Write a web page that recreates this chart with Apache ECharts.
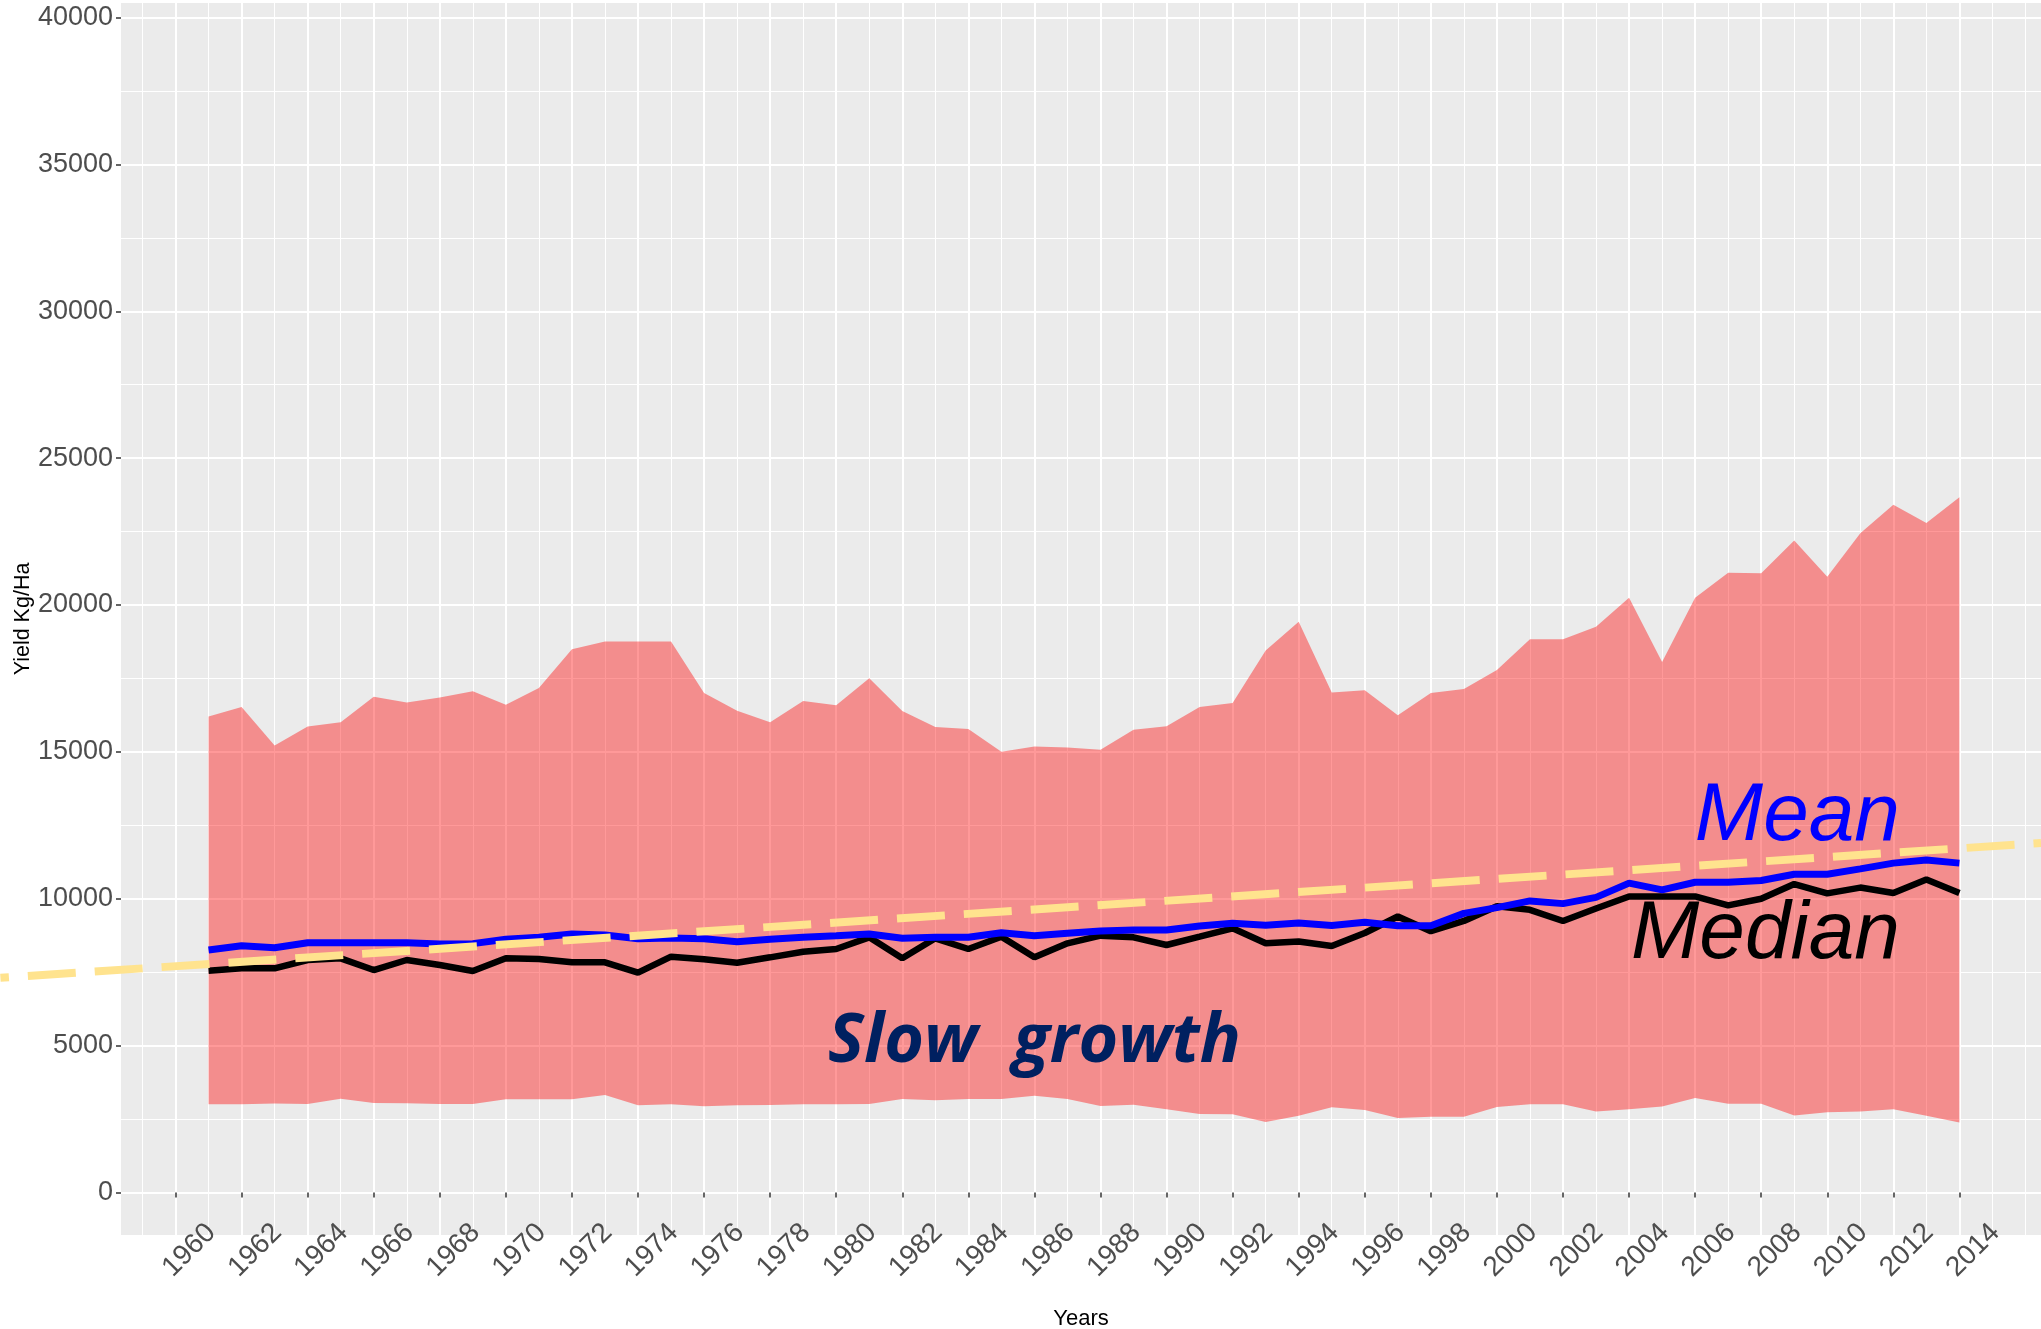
<!DOCTYPE html>
<html>
<head>
<meta charset="utf-8">
<script src="https://cdn.jsdelivr.net/npm/echarts@6/dist/echarts.min.js"></script>
<style>
html, body { margin: 0; padding: 0; background: #fff; }
#chart { width: 2041px; height: 1329px; }
</style>
</head>
<body>
<div id="chart"></div>
<script>
// years and yield values (Kg/Ha)
var years = [1961, 1962, 1963, 1964, 1965, 1966, 1967, 1968, 1969, 1970,
    1971, 1972, 1973, 1974, 1975, 1976, 1977, 1978, 1979, 1980,
    1981, 1982, 1983, 1984, 1985, 1986, 1987, 1988, 1989, 1990,
    1991, 1992, 1993, 1994, 1995, 1996, 1997, 1998, 1999, 2000,
    2001, 2002, 2003, 2004, 2005, 2006, 2007, 2008, 2009, 2010,
    2011, 2012, 2013, 2014];
var upper = [16200, 16530, 15220, 15860, 16010, 16880, 16680, 16850, 17060, 16600,
    17170, 18490, 18760, 18760, 18760, 17000, 16400, 16010, 16730, 16590,
    17510, 16390, 15850, 15780, 15000, 15180, 15150, 15070, 15750, 15870,
    16530, 16660, 18450, 19430, 17020, 17100, 16250, 17000, 17140, 17790,
    18830, 18830, 19260, 20250, 18060, 20250, 21100, 21080, 22200, 20960,
    22440, 23410, 22790, 23670];
var lower = [3000, 3000, 3030, 3010, 3190, 3045, 3033, 3010, 3010, 3170,
    3170, 3170, 3316, 2965, 3000, 2930, 2965, 2976, 3000, 3000,
    3010, 3180, 3135, 3180, 3180, 3293, 3180, 2942, 2988, 2829,
    2670, 2659, 2397, 2610, 2900, 2804, 2531, 2576, 2576, 2910,
    3001, 3001, 2758, 2834, 2925, 3213, 3016, 3016, 2622, 2728,
    2758, 2834, 2607, 2380];
var mean = [8255, 8401, 8333, 8503, 8503, 8503, 8503, 8457, 8470, 8617,
    8685, 8798, 8764, 8640, 8662, 8640, 8537, 8617, 8685, 8741,
    8798, 8651, 8685, 8685, 8843, 8741, 8821, 8900, 8934, 8934,
    9070, 9161, 9093, 9175, 9085, 9197, 9076, 9076, 9500, 9697,
    9924, 9833, 10045, 10530, 10303, 10560, 10560, 10621, 10833, 10833,
    11015, 11212, 11318, 11212];
var median = [7549, 7629, 7629, 7913, 7970, 7572, 7913, 7742, 7538, 7970,
    7947, 7834, 7834, 7481, 8026, 7936, 7820, 8004, 8196, 8287,
    8685, 7970, 8651, 8287, 8707, 8004, 8481, 8741, 8685, 8424,
    8707, 8992, 8481, 8540, 8390, 8833, 9394, 8894, 9242, 9742,
    9621, 9242, 9667, 10076, 10076, 10076, 9773, 10000, 10500, 10182,
    10379, 10197, 10651, 10197];
// trend line end points
var trendX = [1954.7, 2016.47];
var trendY = [7308, 11898];

// tick labels
var yearTicks = [1960, 1962, 1964, 1966, 1968, 1970, 1972, 1974, 1976, 1978,
    1980, 1982, 1984, 1986, 1988, 1990, 1992, 1994, 1996, 1998,
    2000, 2002, 2004, 2006, 2008, 2010, 2012, 2014];
var yearMinor = [1959, 1961, 1963, 1965, 1967, 1969, 1971, 1973, 1975, 1977,
    1979, 1981, 1983, 1985, 1987, 1989, 1991, 1993, 1995, 1997,
    1999, 2001, 2003, 2005, 2007, 2009, 2011, 2013, 2015, 2016];
var yieldTicks = [0, 5000, 10000, 15000, 20000, 25000, 30000, 35000, 40000];
var yieldMinor = [2500, 7500, 12500, 17500, 22500, 27500, 32500, 37500];

function pairs(xs, ys) {
    var out = [];
    for (var i = 0; i < xs.length; i++) {
        out.push([xs[i], ys[i]]);
    }
    return out;
}

var myChart = echarts.init(document.getElementById('chart'));

var xMin = 1958.35, xMax = 2016.47;
var yMin = -1450, yMax = 40497;
var tickFont = 'Liberation Sans, Arial, sans-serif';

var option = {
    animation: false,
    backgroundColor: '#ffffff',
    grid: {
        left: 121, right: 0, top: 3, bottom: 94,
        outerBoundsMode: 'none',
        containLabel: false,
        show: true, backgroundColor: '#EBEBEB', borderWidth: 0
    },
    xAxis: [{
        type: 'value', min: xMin, max: xMax,
        axisLine: { show: false },
        axisTick: { show: true, customValues: yearTicks, length: 5, lineStyle: { color: '#333333', width: 1.5 } },
        axisLabel: {
            customValues: yearTicks, rotate: 45, align: 'center', margin: 29, padding: [0, 0, 0, 39],
            fontSize: 28, color: '#4D4D4D', fontFamily: tickFont,
            formatter: function (v) { return String(v); }
        },
        splitLine: { show: true, lineStyle: { color: '#ffffff', width: 2 } },
        name: 'Years', nameLocation: 'middle', nameGap: 73,
        nameTextStyle: { fontSize: 22, color: '#000000', fontFamily: tickFont }
    }, {
        // minor grid lines
        type: 'value', min: xMin, max: xMax,
        axisLine: { show: false },
        axisTick: { show: false, customValues: yearMinor },
        axisLabel: { show: false, customValues: yearMinor },
        splitLine: { show: true, lineStyle: { color: '#ffffff', width: 1 } }
    }],
    yAxis: [{
        type: 'value', min: yMin, max: yMax,
        axisLine: { show: false },
        axisTick: { show: true, customValues: yieldTicks, length: 5, lineStyle: { color: '#333333', width: 1.5 } },
        axisLabel: {
            customValues: yieldTicks, margin: 8,
            fontSize: 27, color: '#4D4D4D', fontFamily: tickFont,
            formatter: function (v) { return String(v); }
        },
        splitLine: { show: true, lineStyle: { color: '#ffffff', width: 2 } },
        name: 'Yield Kg/Ha', nameLocation: 'middle', nameGap: 87, nameMoveOverlap: false,
        nameTextStyle: { fontSize: 21.5, color: '#000000', fontFamily: tickFont }
    }, {
        type: 'value', min: yMin, max: yMax, position: 'left',
        axisLine: { show: false },
        axisTick: { show: false, customValues: yieldMinor },
        axisLabel: { show: false, customValues: yieldMinor },
        splitLine: { show: true, lineStyle: { color: '#ffffff', width: 1 } }
    }],
    series: [{
        // min-max band
        type: 'custom',
        silent: true,
        z: 1,
        data: [[years[0], upper[0]]],
        renderItem: function (params, api) {
            var pts = [];
            for (var i = 0; i < years.length; i++) {
                pts.push(api.coord([years[i], upper[i]]));
            }
            for (var j = years.length - 1; j >= 0; j--) {
                pts.push(api.coord([years[j], lower[j]]));
            }
            return {
                type: 'polygon',
                shape: { points: pts },
                style: { fill: 'rgba(255,0,0,0.4)' }
            };
        }
    }, {
        name: 'Median',
        type: 'line',
        z: 3,
        symbol: 'none',
        data: pairs(years, median),
        lineStyle: { color: '#000000', width: 6.5 }
    }, {
        name: 'Mean',
        type: 'line',
        z: 4,
        symbol: 'none',
        data: pairs(years, mean),
        lineStyle: { color: '#0000FF', width: 7 }
    }, {
        // dashed trend line, runs past the panel edges
        name: 'Trend',
        type: 'custom',
        z: 5,
        silent: true,
        clip: false,
        data: [[trendX[0], trendY[0]]],
        renderItem: function (params, api) {
            var p1 = api.coord([trendX[0], trendY[0]]);
            var p2 = api.coord([trendX[1], trendY[1]]);
            return {
                type: 'line',
                shape: { x1: p1[0], y1: p1[1], x2: p2[0], y2: p2[1] },
                style: { stroke: '#FFE38E', lineWidth: 8, lineDash: [48, 19], lineDashOffset: 39.5 }
            };
        }
    }, {
        // text annotations
        type: 'scatter',
        z: 6,
        silent: true,
        symbolSize: 1,
        itemStyle: { color: 'rgba(0,0,0,0)', opacity: 1 },
        data: [{
            value: [2012.2, 12760],
            label: { show: true, position: 'inside', align: 'right', verticalAlign: 'middle', formatter: 'Mean',
                fontSize: 82, fontStyle: 'italic', color: '#0000FF', fontFamily: tickFont }
        }, {
            value: [2012.2, 8760],
            label: { show: true, position: 'inside', align: 'right', verticalAlign: 'middle', formatter: 'Median',
                fontSize: 82, fontStyle: 'italic', color: '#000000', fontFamily: tickFont }
        }, {
            value: [1986, 5100],
            label: { show: true, position: 'inside', align: 'center', verticalAlign: 'middle', formatter: 'Slow  growth',
                fontSize: 68, fontStyle: 'italic', fontWeight: 'bold', color: '#002060', fontFamily: 'Open Sans' }
        }]
    }]
};

myChart.setOption(option);
</script>
</body>
</html>
